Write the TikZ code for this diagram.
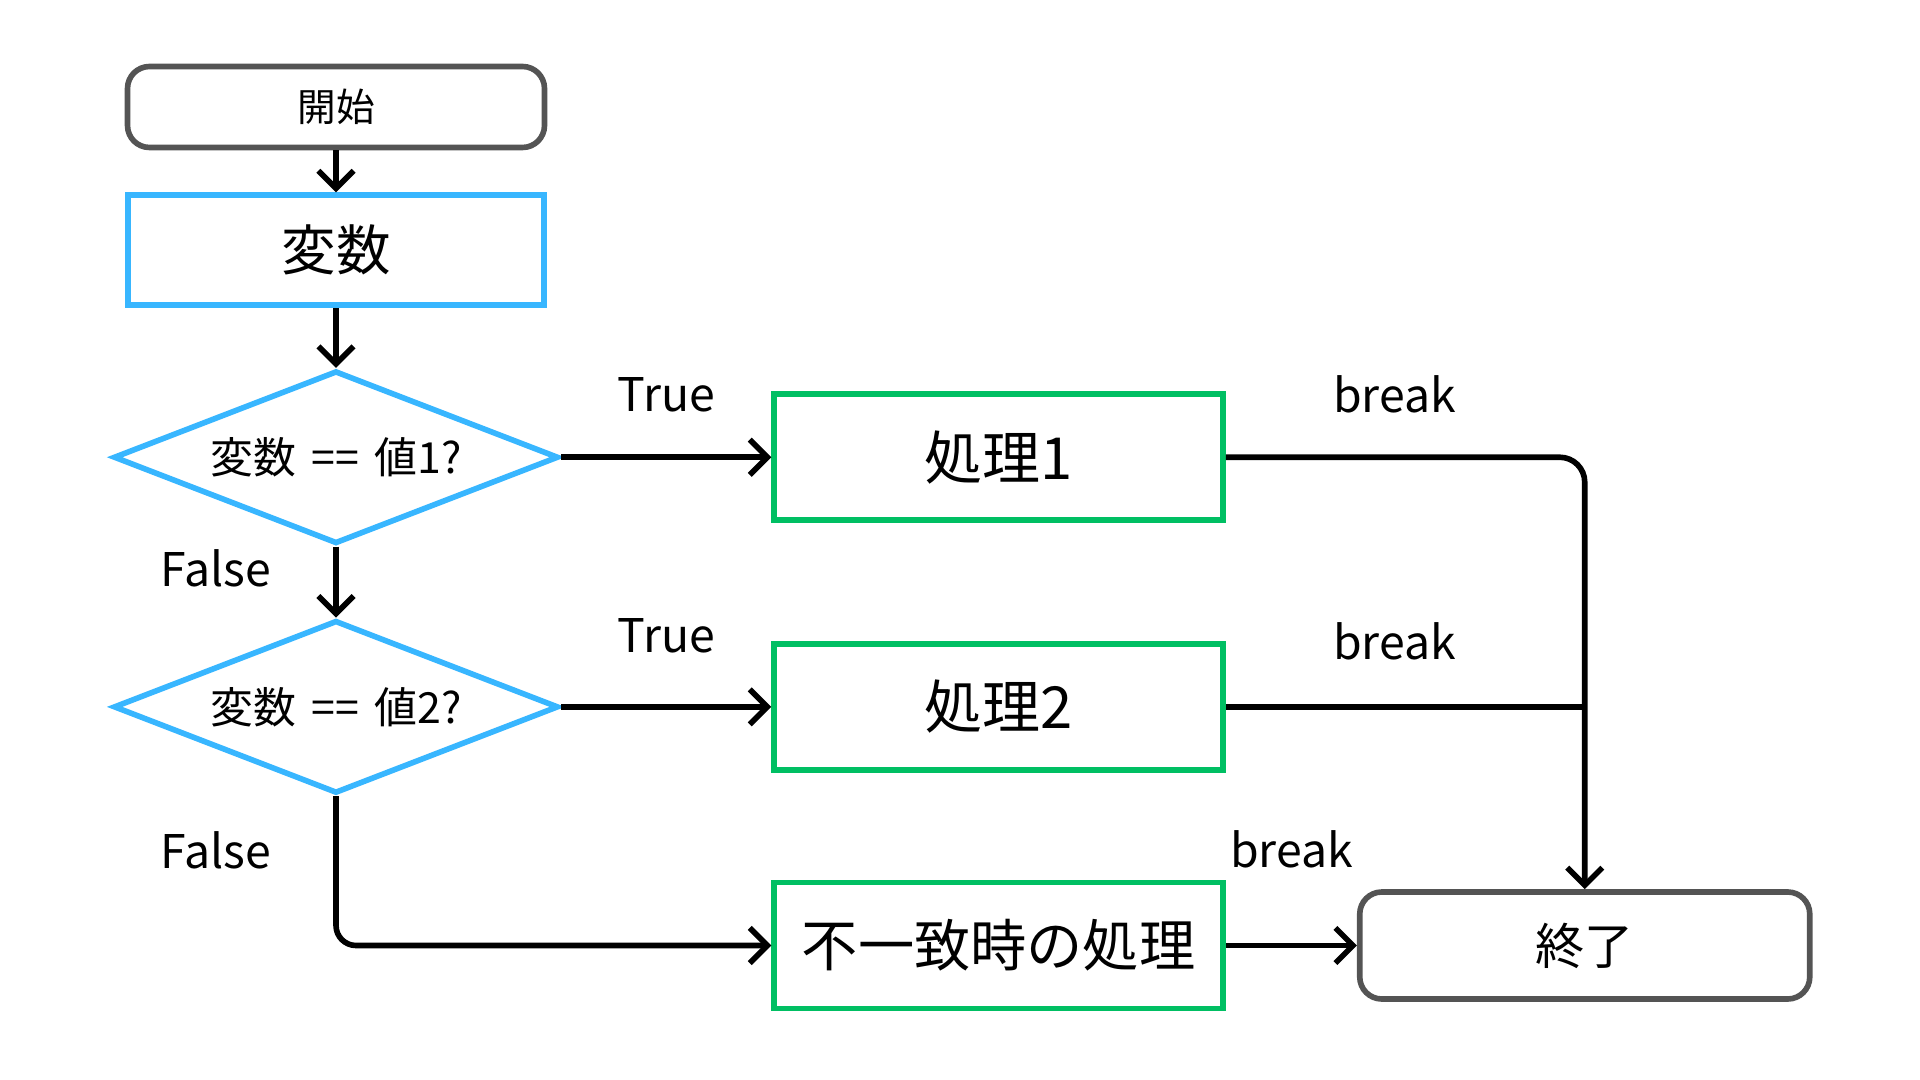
\documentclass[tikz,border=0pt]{standalone}
\usepackage{fontspec}
\usepackage{xcolor}
\usepackage{tikz}
\usetikzlibrary{shapes.geometric, arrows.meta, positioning, calc}
\newfontfamily\jpfont[WordSpace=1.6]{Noto Sans CJK JP}
\definecolor{swblue}{HTML}{38B6FF}
\definecolor{swgreen}{HTML}{00BF63}
\definecolor{swgray}{HTML}{545454}
\tikzset{
    base/.style={line width=1.6pt, align=center, inner sep=0pt},
    terminal/.style={base, draw=swgray, rectangle, rounded corners=0.22cm, fill=white},
    varblock/.style={base, draw=swblue, rectangle, fill=white, font=\jpfont\fontsize{15.5}{18}\selectfont},
    decision/.style={base, draw=swblue, diamond, aspect=2.57, fill=white, minimum width=4.45cm, minimum height=1.73cm, font=\jpfont\fontsize{12.2}{14}\selectfont},
    process/.style={base, draw=swgreen, rectangle, fill=white, minimum width=4.49cm, minimum height=1.26cm, font=\jpfont\fontsize{16.5}{19}\selectfont},
    line/.style={draw=black, line width=1.6pt, -{Straight Barb[length=5pt, width=10pt]}},
    plain-line/.style={draw=black, line width=1.6pt},
    tag/.style={font=\jpfont\fontsize{13.2}{15}\selectfont, inner sep=0pt}
}
\begin{document}
\begin{tikzpicture}[auto]
    \useasboundingbox (0,0) rectangle (19.2,-10.8);

    \node [terminal, minimum width=4.17cm, minimum height=0.81cm, font=\jpfont\fontsize{11}{13}\selectfont] (start) at (3.36,-1.07) {開始};
    \node [varblock, minimum width=4.16cm, minimum height=1.10cm, below=0.42cm of start] (var) {変数};
    \node [decision, below=0.60cm of var] (case1) {変数 == 値1?};
    \node [decision, below=0.71cm of case1] (case2) {変数 == 値2?};
    \node [process, right=2.1cm of case1] (proc1) {処理1};
    \node [process, right=2.1cm of case2] (proc2) {処理2};
    \node [process, below=1.07cm of proc2, font=\jpfont\fontsize{16}{19}\selectfont] (other) {不一致時の処理};
    \node [terminal, minimum width=4.50cm, minimum height=1.07cm, right=1.31cm of other, font=\jpfont\fontsize{14}{16}\selectfont] (end) {終了};

    \draw [line] (start) -- (var);
    \draw [line] (var) -- (case1);
    \draw [line] (case1) -- node [tag, pos=0.3, left=0.62cm] {False} (case2);
    \draw [line] (case1) -- node [tag, midway, above=0.42cm] {True} (proc1);
    \draw [line] (case2) -- node [tag, midway, above=0.51cm] {True} (proc2);
    \draw [line, rounded corners=0.2cm] (case2.south) -- node [tag, pos=0.36, left=0.62cm] {False} (case2.south |- other.west) -- (other.west);

    \draw [line, rounded corners=0.25cm] (proc1.east) -- node [tag, pos=0.47, above=0.41cm] {break} (end.north |- proc1.east) -- (end.north);
    \draw [plain-line] (proc2.east) -- node [tag, pos=0.47, above=0.44cm] {break} (end.north |- proc2.east);
    \draw [line] (other) -- node [tag, midway, above=0.75cm] {break} (end);
\end{tikzpicture}
\end{document}
